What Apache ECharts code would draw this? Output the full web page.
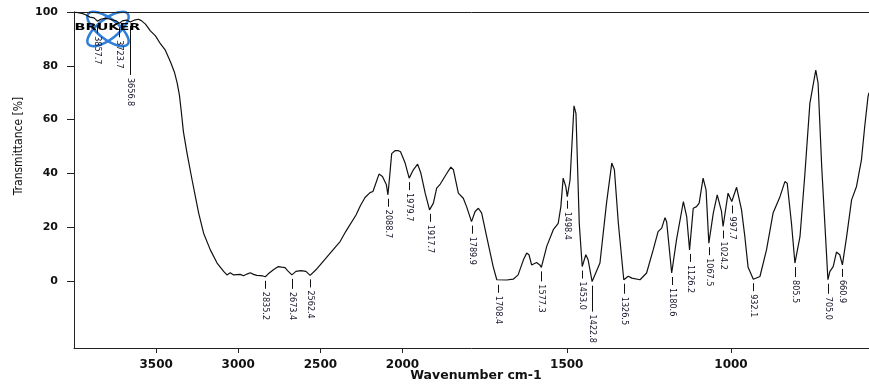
<!DOCTYPE html>
<html>
<head>
<meta charset="utf-8">
<title>IR spectrum</title>
<script src="https://cdn.jsdelivr.net/npm/echarts@6/dist/echarts.min.js"></script>
<style>
  html, body { margin: 0; padding: 0; background: #fff; }
  #chart { width: 869px; height: 389px; }
</style>
</head>
<body>
<div id="chart"></div>
<script>
// Spectrum trace: wavenumber (cm-1) and transmittance (%)
const wavenumber = [
  4000, 3976, 3951, 3927, 3903, 3878, 3857.7, 3833, 3809, 3784, 3760, 3742, 3723.7, 3705, 3681,
  3656.8, 3632, 3608, 3590, 3565, 3535, 3504, 3474, 3444, 3413, 3389, 3372, 3358, 3346, 3334,
  3312, 3281, 3261, 3241, 3211, 3170, 3129, 3089, 3069, 3049, 3028, 3008, 2988, 2968, 2947,
  2927, 2907, 2887, 2867, 2850, 2835.2, 2817, 2786, 2756, 2736, 2715, 2700, 2673.4, 2649, 2618,
  2588, 2562.4, 2527, 2466, 2405, 2380, 2344, 2283, 2256, 2228, 2198, 2180, 2143, 2122, 2098,
  2088.7, 2078, 2066, 2046, 2025, 2012, 2002, 1992, 1979.7, 1967, 1954, 1944, 1931, 1917.7, 1906,
  1896, 1885, 1865, 1853, 1845, 1830, 1815, 1805, 1789.9, 1779, 1769, 1759, 1744, 1724, 1713,
  1708.4, 1683, 1663, 1648, 1632, 1622, 1615, 1607, 1592, 1582, 1577.3, 1561, 1541, 1526, 1518,
  1511, 1503, 1498.4, 1490, 1478, 1472, 1462, 1453.0, 1442, 1435, 1422.8, 1399, 1379, 1363, 1355,
  1343, 1326.5, 1313, 1302, 1277, 1257, 1237, 1222, 1211, 1201, 1196, 1180.6, 1166, 1145, 1135,
  1126.2, 1115, 1105, 1097, 1085, 1076, 1067.5, 1054, 1042, 1029, 1024.2, 1009, 997.7, 983, 968,
  958, 948, 932.1, 912, 892, 872, 851, 836, 829, 816, 805.5, 790, 775, 760, 742,
  735, 724, 705.0, 699, 689, 679, 669, 660.9, 648, 633, 618, 603, 593, 583, 580
];
const transmittance = [
  100, 99.8, 99.5, 98.9, 98.1, 97.8, 96.6, 97.4, 97.6, 97.4, 97.0, 96.7, 95.8, 96.7, 97.0,
  96.3, 97.0, 97.3, 96.8, 95.5, 93.0, 91.1, 88.2, 85.8, 81.5, 77.7, 73.6, 69.0, 62.5, 55.5,
  47.5, 37.5, 31.3, 25.2, 17.7, 11.5, 6.6, 3.5, 2.2, 3.0, 2.2, 2.3, 2.4, 1.9, 2.5,
  3.0, 2.4, 2.0, 1.9, 1.8, 1.5, 2.6, 4.1, 5.3, 5.1, 4.9, 3.8, 2.2, 3.5, 3.8,
  3.5, 2.0, 4.1, 8.4, 12.8, 14.6, 18.5, 24.5, 28.0, 31.0, 32.8, 33.2, 39.7, 38.8, 35.7,
  32.0, 39.0, 47.3, 48.4, 48.4, 48.0, 48.7, 43.8, 38.2, 41.3, 43.4, 40.0, 32.6, 26.4, 28.9,
  34.5, 36.0, 40.0, 42.3, 41.3, 32.6, 30.7, 27.6, 22.0, 25.8, 27.0, 25.2, 16.5, 5.3, 0.4,
  0.0, 0.3, 0.6, 2.2, 7.8, 10.3, 9.7, 5.9, 6.8, 5.9, 5.0, 12.8, 19.0, 21.4, 27.6,
  38.2, 35.1, 31.3, 37.5, 65.1, 62.3, 21.4, 5.3, 9.7, 7.8, -0.3, 6.6, 28.9, 43.8, 41.3,
  21.4, 0.4, 1.7, 1.0, 0.4, 2.9, 11.5, 18.3, 19.6, 23.5, 22.0, 2.9, 15.2, 29.5, 23.9,
  11.5, 27.0, 27.6, 28.9, 38.2, 33.8, 14.0, 25.2, 32.0, 25.8, 20.2, 32.6, 29.5, 34.8, 26.4,
  16.5, 5.0, 0.6, 1.6, 11.5, 25.2, 31.3, 36.9, 36.3, 21.4, 6.6, 16.5, 40.0, 66.0, 78.4,
  73.5, 42.5, 0.4, 3.5, 5.3, 10.7, 9.7, 5.9, 16.5, 30.1, 35.1, 45.0, 57.4, 68.5, 70.0
];

// Picked band positions (cm-1)
const peakWavenumbers = [
  3857.7, 3723.7, 3656.8, 2835.2, 2673.4, 2562.4, 2088.7, 1979.7, 1917.7, 1789.9, 1708.4,
  1577.3, 1498.4, 1453.0, 1422.8, 1326.5, 1180.6, 1126.2, 1067.5, 1024.2, 997.7, 932.1,
  805.5, 705.0, 660.9
];
const peakLabels = peakWavenumbers.map(w => w.toFixed(1));

const xTickValues = [3500, 3000, 2500, 2000, 1500, 1000];
const yTickValues = [0, 20, 40, 60, 80, 100];

// Leader lengths (px) for labels that hang lower than the rest
const longLeads = { '3656.8': 49, '1422.8': 26, '1577.3': 10, '2673.4': 10, '1326.5': 10, '805.5': 10, '705.0': 10, '3723.7': 10 };
const defaultLead = 8;

// Axis units: 4000-2000 cm-1 at one scale, below 2000 cm-1 expanded twofold
function toAxis(w) { return w >= 2000 ? 4000 - w : 2000 + 2 * (2000 - w); }
function fromAxis(u) { return u <= 2000 ? 4000 - u : 2000 - (u - 2000) / 2; }

function transmittanceAt(w) {
  for (let i = 0; i < wavenumber.length - 1; i++) {
    const a = wavenumber[i], b = wavenumber[i + 1];
    if (w <= a && w >= b) {
      const t = (a - w) / (a - b);
      return transmittance[i] + t * (transmittance[i + 1] - transmittance[i]);
    }
  }
  return transmittance[transmittance.length - 1];
}

const spectrum = wavenumber.map((w, i) => [toAxis(w), transmittance[i]]);
const peaks = peakWavenumbers.map((w, i) => [toAxis(w), transmittanceAt(w), longLeads[peakLabels[i]] || defaultLead]);

const ink = '#111';

const chart = echarts.init(document.getElementById('chart'), null, { renderer: 'canvas' });

chart.setOption({
  animation: false,
  backgroundColor: '#fff',
  grid: { left: 74, right: 0, top: 12, bottom: 41, containLabel: false, outerBoundsMode: 'none' },
  xAxis: [{
    type: 'value',
    min: 0,
    max: toAxis(580),
    axisLine: { show: true, onZero: false, lineStyle: { color: '#222', width: 1 } },
    axisTick: { show: true, length: 5, lineStyle: { color: '#222' }, customValues: xTickValues.map(toAxis) },
    axisLabel: {
      show: true, margin: 11, color: ink, fontFamily: 'DejaVu Sans', fontWeight: 'bold', fontSize: 12,
      customValues: xTickValues.map(toAxis),
      formatter: v => String(Math.round(fromAxis(v)))
    },
    splitLine: { show: false }
  }, {
    type: 'value',
    position: 'top',
    min: 0,
    max: toAxis(580),
    axisLine: { show: true, onZero: false, lineStyle: { color: '#222', width: 1 } },
    axisTick: { show: false },
    axisLabel: { show: false },
    splitLine: { show: false }
  }],
  yAxis: {
    type: 'value',
    min: -25,
    max: 100,
    axisLine: { show: true, onZero: false, lineStyle: { color: '#222', width: 1 } },
    axisTick: { show: true, length: 7, lineStyle: { color: '#222' }, customValues: yTickValues },
    axisLabel: {
      show: true, margin: 16, color: ink, fontFamily: 'DejaVu Sans', fontWeight: 'bold', fontSize: 11,
      customValues: yTickValues
    },
    splitLine: { show: false }
  },
  series: [{
    type: 'line',
    data: spectrum,
    showSymbol: false,
    smooth: false,
    lineStyle: { color: '#111', width: 1.2 },
    z: 3
  }, {
    type: 'custom',
    coordinateSystem: 'cartesian2d',
    data: peaks,
    encode: { x: 0, y: 1 },
    silent: true,
    clip: false,
    z: 4,
    renderItem: function (params, api) {
      const p = api.coord([api.value(0), api.value(1)]);
      const lead = api.value(2);
      const x = Math.round(p[0]) + 0.5;
      const top = p[1] + 4;
      const bottom = top + lead;
      return {
        type: 'group',
        children: [{
          type: 'line',
          shape: { x1: x, y1: top, x2: x, y2: bottom },
          style: { stroke: '#111', lineWidth: 1 }
        }, {
          type: 'text',
          x: x,
          y: bottom + 3,
          rotation: -Math.PI / 2,
          style: {
            text: peakLabels[params.dataIndex],
            font: '9px "Liberation Sans Narrow", "DejaVu Sans Condensed", sans-serif',
            fill: '#14142a',
            align: 'left',
            verticalAlign: 'middle'
          }
        }]
      };
    }
  }],
  graphic: [{
    type: 'text',
    x: 18.5,
    y: 146,
    rotation: Math.PI / 2,
    z: 10,
    style: {
      text: 'Transmittance [%]',
      font: '12px "Liberation Sans Narrow", "DejaVu Sans Condensed", sans-serif',
      fill: ink,
      align: 'center',
      verticalAlign: 'middle'
    }
  }, {
    type: 'text',
    x: 476,
    y: 376,
    z: 10,
    style: {
      text: 'Wavenumber cm-1',
      font: 'bold 12.5px "DejaVu Sans", sans-serif',
      fill: ink,
      align: 'center',
      verticalAlign: 'middle'
    }
  }, {
    // instrument logo: two crossed orbits with the maker's name
    type: 'group',
    z: 20,
    children: [{
      type: 'ellipse',
      shape: { cx: 108, cy: 29, rx: 25, ry: 10 },
      originX: 108, originY: 29,
      rotation: 0.66,
      style: { stroke: '#2f7fd8', lineWidth: 2.5, fill: 'none' }
    }, {
      type: 'ellipse',
      shape: { cx: 108, cy: 29, rx: 25, ry: 10 },
      originX: 108, originY: 29,
      rotation: -0.66,
      style: { stroke: '#2f7fd8', lineWidth: 2.5, fill: 'none' }
    }, {
      type: 'text',
      x: 107.5,
      y: 28,
      scaleX: 1.6,
      style: {
        text: 'BRUKER',
        font: '900 9px "DejaVu Sans", sans-serif',
        fill: '#000',
        align: 'center',
        verticalAlign: 'middle'
      }
    }]
  }]
});
</script>
</body>
</html>
